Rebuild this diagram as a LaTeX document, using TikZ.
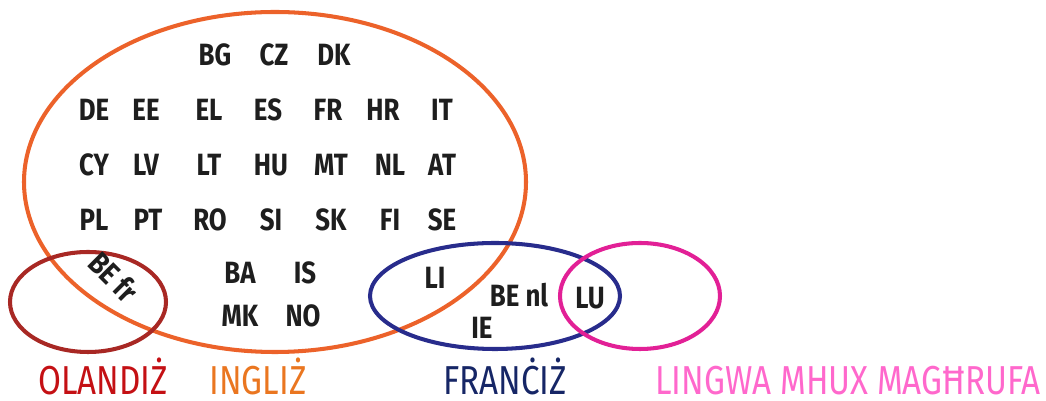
\documentclass[tikz,border=0pt]{standalone}
\usepackage{fontspec}
\newfontfamily\codefont[FakeStretch=0.84]{Fira Sans}
\newfontfamily\labelfont[FakeStretch=0.82]{Fira Sans}
\definecolor{engring}{RGB}{236,98,42}
\definecolor{nlring}{RGB}{168,40,36}
\definecolor{frring}{RGB}{40,44,140}
\definecolor{unkring}{RGB}{226,32,150}
\definecolor{nltext}{RGB}{196,16,20}
\definecolor{engtext}{RGB}{234,118,32}
\definecolor{frtext}{RGB}{22,38,102}
\definecolor{unktext}{RGB}{255,104,204}
\definecolor{codeink}{RGB}{30,30,30}

\begin{document}
\begin{tikzpicture}[
    , x = 0.02cm
    , y = -0.02cm
    , ring/.style = {
      , line width = 2.3pt
    }
    , c/.style = {
      , inner sep = 0pt
      , text = codeink
      , font = \codefont\bfseries\fontsize{17.5}{19}\selectfont
    }
    , lbl/.style = {
      , inner sep = 0pt
      , anchor = base
      , font = \labelfont\fontsize{23}{26}\selectfont
    }
  ]
    \useasboundingbox (0,0) rectangle (1046,401);
    % sets
    \draw [ring, engring] (275,182) ellipse [x radius = 251, y radius = 170];
    \draw [ring, nlring] (88,302) ellipse [x radius = 78, y radius = 50];
    \draw [ring, frring] (495,296) ellipse [x radius = 125, y radius = 53];
    \draw [ring, unkring] (640,296) ellipse [x radius = 80, y radius = 53];
    % english only
    \node (bg) [c] at (215,55) {BG};
    \node (cz) [c] at (274,55) {CZ};
    \node (dk) [c] at (334,55) {DK};
    \node (de) [c] at (94,110) {DE};
    \node (ee) [c] at (146,110) {EE};
    \node (el) [c] at (209,110) {EL};
    \node (es) [c] at (268,110) {ES};
    \node (fr) [c] at (328,110) {FR};
    \node (hr) [c] at (383,110) {HR};
    \node (it) [c] at (442,110) {IT};
    \node (cy) [c] at (94,165) {CY};
    \node (lv) [c] at (146,165) {LV};
    \node (lt) [c] at (209,165) {LT};
    \node (hu) [c] at (271,165) {HU};
    \node (mt) [c] at (331,165) {MT};
    \node (nl) [c] at (390,165) {NL};
    \node (at) [c] at (442,165) {AT};
    \node (pl) [c] at (94,220) {PL};
    \node (pt) [c] at (148,220) {PT};
    \node (ro) [c] at (210,220) {RO};
    \node (si) [c] at (271,220) {SI};
    \node (sk) [c] at (331,220) {SK};
    \node (fi) [c] at (390,220) {FI};
    \node (se) [c] at (442,220) {SE};
    \node (ba) [c] at (240,273) {BA};
    \node (is) [c] at (305,273) {IS};
    \node (mk) [c] at (240,316) {MK};
    \node (no) [c] at (303,316) {NO};
    % overlaps
    \node (befr) [c, rotate = -45] at (114,277) {BE fr};
    \node (li) [c] at (435,278) {LI};
    \node (benl) [c] at (519,295) {BE nl};
    \node (ie) [c] at (482,328) {IE};
    \node (lu) [c] at (590,298) {LU};
    % legend
    \node (olandiz) [lbl, text = nltext] at (103,395) {OLANDIŻ};
    \node (ingliz) [lbl, text = engtext] at (258,395) {INGLIŻ};
    \node (franciz) [lbl, text = frtext] at (505,395) {FRANĊIŻ};
    \node (mhux) [lbl, text = unktext] at (848,395) {LINGWA MHUX MAGĦRUFA};
  \end{tikzpicture}
\end{document}
